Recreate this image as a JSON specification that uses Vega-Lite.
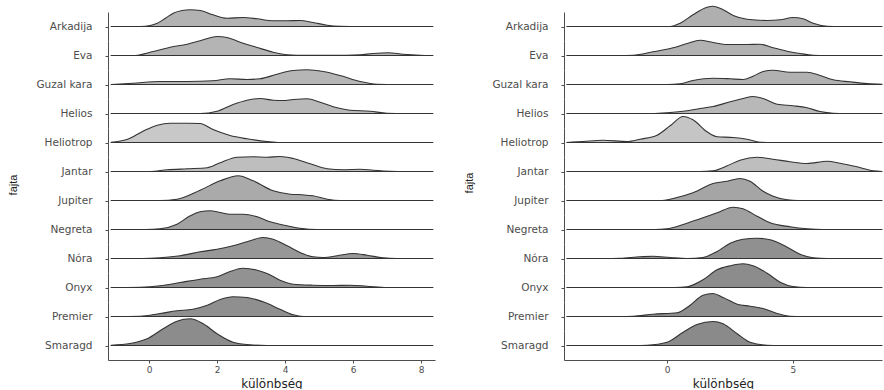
{
  "$schema": "https://vega.github.io/schema/vega-lite/v6.json",
  "padding": {"left": 8, "top": 5, "right": 0, "bottom": 0},
  "datasets": {
    "bal": [
      {"fajta":"Arkadija","kulonbseg":-1.12,"suruseg":0},{"fajta":"Arkadija","kulonbseg":-0.26,"suruseg":0},{"fajta":"Arkadija","kulonbseg":0.03,"suruseg":1},{"fajta":"Arkadija","kulonbseg":0.24,"suruseg":3.3},{"fajta":"Arkadija","kulonbseg":0.47,"suruseg":8},{"fajta":"Arkadija","kulonbseg":0.71,"suruseg":13.3},{"fajta":"Arkadija","kulonbseg":0.97,"suruseg":16},{"fajta":"Arkadija","kulonbseg":1.21,"suruseg":16.7},{"fajta":"Arkadija","kulonbseg":1.5,"suruseg":16},{"fajta":"Arkadija","kulonbseg":1.88,"suruseg":11.7},{"fajta":"Arkadija","kulonbseg":2.29,"suruseg":8.3},{"fajta":"Arkadija","kulonbseg":2.76,"suruseg":9},{"fajta":"Arkadija","kulonbseg":3.18,"suruseg":7.7},{"fajta":"Arkadija","kulonbseg":3.65,"suruseg":5.7},{"fajta":"Arkadija","kulonbseg":4.06,"suruseg":5.7},{"fajta":"Arkadija","kulonbseg":4.44,"suruseg":6},{"fajta":"Arkadija","kulonbseg":4.82,"suruseg":4},{"fajta":"Arkadija","kulonbseg":5.24,"suruseg":1.3},{"fajta":"Arkadija","kulonbseg":5.62,"suruseg":0.3},{"fajta":"Arkadija","kulonbseg":6.2,"suruseg":0},{"fajta":"Arkadija","kulonbseg":8.35,"suruseg":0},
      {"fajta":"Eva","kulonbseg":-1.12,"suruseg":0},{"fajta":"Eva","kulonbseg":-0.47,"suruseg":0},{"fajta":"Eva","kulonbseg":0.12,"suruseg":4},{"fajta":"Eva","kulonbseg":0.62,"suruseg":8.3},{"fajta":"Eva","kulonbseg":1.12,"suruseg":11.3},{"fajta":"Eva","kulonbseg":1.5,"suruseg":14.7},{"fajta":"Eva","kulonbseg":2.0,"suruseg":19},{"fajta":"Eva","kulonbseg":2.29,"suruseg":18},{"fajta":"Eva","kulonbseg":2.68,"suruseg":13.3},{"fajta":"Eva","kulonbseg":3.18,"suruseg":8},{"fajta":"Eva","kulonbseg":3.65,"suruseg":3.3},{"fajta":"Eva","kulonbseg":4.06,"suruseg":0.7},{"fajta":"Eva","kulonbseg":4.6,"suruseg":0.1},{"fajta":"Eva","kulonbseg":5.8,"suruseg":0.2},{"fajta":"Eva","kulonbseg":6.21,"suruseg":0.7},{"fajta":"Eva","kulonbseg":6.59,"suruseg":2},{"fajta":"Eva","kulonbseg":7.03,"suruseg":2.7},{"fajta":"Eva","kulonbseg":7.47,"suruseg":1.3},{"fajta":"Eva","kulonbseg":7.97,"suruseg":0.3},{"fajta":"Eva","kulonbseg":8.35,"suruseg":0},
      {"fajta":"Guzal kara","kulonbseg":-1.12,"suruseg":0},{"fajta":"Guzal kara","kulonbseg":-0.47,"suruseg":1.3},{"fajta":"Guzal kara","kulonbseg":0.32,"suruseg":3},{"fajta":"Guzal kara","kulonbseg":1.12,"suruseg":3},{"fajta":"Guzal kara","kulonbseg":1.88,"suruseg":3.7},{"fajta":"Guzal kara","kulonbseg":2.38,"suruseg":5.7},{"fajta":"Guzal kara","kulonbseg":2.88,"suruseg":5},{"fajta":"Guzal kara","kulonbseg":3.26,"suruseg":5.7},{"fajta":"Guzal kara","kulonbseg":3.76,"suruseg":10.3},{"fajta":"Guzal kara","kulonbseg":4.24,"suruseg":14},{"fajta":"Guzal kara","kulonbseg":4.65,"suruseg":14.7},{"fajta":"Guzal kara","kulonbseg":5.12,"suruseg":13},{"fajta":"Guzal kara","kulonbseg":5.62,"suruseg":9},{"fajta":"Guzal kara","kulonbseg":6.21,"suruseg":3},{"fajta":"Guzal kara","kulonbseg":6.71,"suruseg":0.3},{"fajta":"Guzal kara","kulonbseg":7.3,"suruseg":0},{"fajta":"Guzal kara","kulonbseg":8.35,"suruseg":0},
      {"fajta":"Helios","kulonbseg":-1.12,"suruseg":0},{"fajta":"Helios","kulonbseg":1.5,"suruseg":0},{"fajta":"Helios","kulonbseg":2.0,"suruseg":2.3},{"fajta":"Helios","kulonbseg":2.47,"suruseg":9},{"fajta":"Helios","kulonbseg":2.88,"suruseg":13.3},{"fajta":"Helios","kulonbseg":3.26,"suruseg":15},{"fajta":"Helios","kulonbseg":3.65,"suruseg":13.3},{"fajta":"Helios","kulonbseg":3.94,"suruseg":13},{"fajta":"Helios","kulonbseg":4.24,"suruseg":14},{"fajta":"Helios","kulonbseg":4.65,"suruseg":14.7},{"fajta":"Helios","kulonbseg":5.03,"suruseg":11.3},{"fajta":"Helios","kulonbseg":5.53,"suruseg":5.7},{"fajta":"Helios","kulonbseg":5.91,"suruseg":3.3},{"fajta":"Helios","kulonbseg":6.5,"suruseg":2.3},{"fajta":"Helios","kulonbseg":7.0,"suruseg":0.3},{"fajta":"Helios","kulonbseg":7.5,"suruseg":0},{"fajta":"Helios","kulonbseg":8.35,"suruseg":0},
      {"fajta":"Heliotrop","kulonbseg":-1.12,"suruseg":0.3},{"fajta":"Heliotrop","kulonbseg":-0.65,"suruseg":3},{"fajta":"Heliotrop","kulonbseg":-0.18,"suruseg":11.3},{"fajta":"Heliotrop","kulonbseg":0.24,"suruseg":17.3},{"fajta":"Heliotrop","kulonbseg":0.62,"suruseg":19.3},{"fajta":"Heliotrop","kulonbseg":1.12,"suruseg":19.3},{"fajta":"Heliotrop","kulonbseg":1.5,"suruseg":19},{"fajta":"Heliotrop","kulonbseg":1.88,"suruseg":13},{"fajta":"Heliotrop","kulonbseg":2.38,"suruseg":7},{"fajta":"Heliotrop","kulonbseg":2.88,"suruseg":3.7},{"fajta":"Heliotrop","kulonbseg":3.47,"suruseg":1},{"fajta":"Heliotrop","kulonbseg":3.85,"suruseg":0},{"fajta":"Heliotrop","kulonbseg":8.35,"suruseg":0},
      {"fajta":"Jantar","kulonbseg":-1.12,"suruseg":0},{"fajta":"Jantar","kulonbseg":0.03,"suruseg":0},{"fajta":"Jantar","kulonbseg":0.53,"suruseg":1.7},{"fajta":"Jantar","kulonbseg":1.12,"suruseg":2.7},{"fajta":"Jantar","kulonbseg":1.71,"suruseg":3.7},{"fajta":"Jantar","kulonbseg":2.09,"suruseg":8.7},{"fajta":"Jantar","kulonbseg":2.59,"suruseg":14.3},{"fajta":"Jantar","kulonbseg":3.06,"suruseg":14.7},{"fajta":"Jantar","kulonbseg":3.47,"suruseg":14.3},{"fajta":"Jantar","kulonbseg":3.85,"suruseg":15},{"fajta":"Jantar","kulonbseg":4.24,"suruseg":13},{"fajta":"Jantar","kulonbseg":4.74,"suruseg":7.7},{"fajta":"Jantar","kulonbseg":5.24,"suruseg":2.7},{"fajta":"Jantar","kulonbseg":5.71,"suruseg":1.7},{"fajta":"Jantar","kulonbseg":6.21,"suruseg":2.3},{"fajta":"Jantar","kulonbseg":6.59,"suruseg":1.3},{"fajta":"Jantar","kulonbseg":7.09,"suruseg":0.3},{"fajta":"Jantar","kulonbseg":7.5,"suruseg":0},{"fajta":"Jantar","kulonbseg":8.35,"suruseg":0},
      {"fajta":"Jupiter","kulonbseg":-1.12,"suruseg":0},{"fajta":"Jupiter","kulonbseg":0.32,"suruseg":0},{"fajta":"Jupiter","kulonbseg":0.82,"suruseg":1.3},{"fajta":"Jupiter","kulonbseg":1.5,"suruseg":10.3},{"fajta":"Jupiter","kulonbseg":2.09,"suruseg":19.7},{"fajta":"Jupiter","kulonbseg":2.62,"suruseg":24.7},{"fajta":"Jupiter","kulonbseg":3.06,"suruseg":19.7},{"fajta":"Jupiter","kulonbseg":3.65,"suruseg":9.7},{"fajta":"Jupiter","kulonbseg":4.15,"suruseg":6.3},{"fajta":"Jupiter","kulonbseg":4.5,"suruseg":5.7},{"fajta":"Jupiter","kulonbseg":4.82,"suruseg":4.7},{"fajta":"Jupiter","kulonbseg":5.24,"suruseg":1.3},{"fajta":"Jupiter","kulonbseg":5.62,"suruseg":0},{"fajta":"Jupiter","kulonbseg":8.35,"suruseg":0},
      {"fajta":"Negreta","kulonbseg":-1.12,"suruseg":0},{"fajta":"Negreta","kulonbseg":-0.1,"suruseg":0},{"fajta":"Negreta","kulonbseg":0.32,"suruseg":0.7},{"fajta":"Negreta","kulonbseg":0.82,"suruseg":5.3},{"fajta":"Negreta","kulonbseg":1.21,"suruseg":13.7},{"fajta":"Negreta","kulonbseg":1.5,"suruseg":17.7},{"fajta":"Negreta","kulonbseg":1.79,"suruseg":18.7},{"fajta":"Negreta","kulonbseg":2.09,"suruseg":17},{"fajta":"Negreta","kulonbseg":2.38,"suruseg":15.3},{"fajta":"Negreta","kulonbseg":2.76,"suruseg":15.3},{"fajta":"Negreta","kulonbseg":3.18,"suruseg":12.7},{"fajta":"Negreta","kulonbseg":3.56,"suruseg":7.7},{"fajta":"Negreta","kulonbseg":4.06,"suruseg":3.7},{"fajta":"Negreta","kulonbseg":4.44,"suruseg":1.3},{"fajta":"Negreta","kulonbseg":4.94,"suruseg":0},{"fajta":"Negreta","kulonbseg":8.35,"suruseg":0},
      {"fajta":"Nóra","kulonbseg":-1.12,"suruseg":0},{"fajta":"Nóra","kulonbseg":-0.2,"suruseg":0},{"fajta":"Nóra","kulonbseg":0.32,"suruseg":0.7},{"fajta":"Nóra","kulonbseg":0.91,"suruseg":2.7},{"fajta":"Nóra","kulonbseg":1.5,"suruseg":6.7},{"fajta":"Nóra","kulonbseg":2.0,"suruseg":9.3},{"fajta":"Nóra","kulonbseg":2.47,"suruseg":12.7},{"fajta":"Nóra","kulonbseg":2.97,"suruseg":17.7},{"fajta":"Nóra","kulonbseg":3.35,"suruseg":21},{"fajta":"Nóra","kulonbseg":3.65,"suruseg":19.3},{"fajta":"Nóra","kulonbseg":4.06,"suruseg":12.7},{"fajta":"Nóra","kulonbseg":4.44,"suruseg":6},{"fajta":"Nóra","kulonbseg":4.82,"suruseg":1.7},{"fajta":"Nóra","kulonbseg":5.12,"suruseg":1},{"fajta":"Nóra","kulonbseg":5.53,"suruseg":2.7},{"fajta":"Nóra","kulonbseg":6.0,"suruseg":5},{"fajta":"Nóra","kulonbseg":6.41,"suruseg":3.3},{"fajta":"Nóra","kulonbseg":6.88,"suruseg":0.7},{"fajta":"Nóra","kulonbseg":7.29,"suruseg":0},{"fajta":"Nóra","kulonbseg":8.35,"suruseg":0},
      {"fajta":"Onyx","kulonbseg":-1.12,"suruseg":0},{"fajta":"Onyx","kulonbseg":-0.26,"suruseg":0.3},{"fajta":"Onyx","kulonbseg":0.32,"suruseg":1.7},{"fajta":"Onyx","kulonbseg":0.91,"suruseg":5},{"fajta":"Onyx","kulonbseg":1.5,"suruseg":8.3},{"fajta":"Onyx","kulonbseg":2.0,"suruseg":10.7},{"fajta":"Onyx","kulonbseg":2.38,"suruseg":16},{"fajta":"Onyx","kulonbseg":2.76,"suruseg":19.3},{"fajta":"Onyx","kulonbseg":3.18,"suruseg":17.3},{"fajta":"Onyx","kulonbseg":3.47,"suruseg":14},{"fajta":"Onyx","kulonbseg":3.85,"suruseg":7.3},{"fajta":"Onyx","kulonbseg":4.24,"suruseg":3.3},{"fajta":"Onyx","kulonbseg":4.82,"suruseg":2.3},{"fajta":"Onyx","kulonbseg":5.41,"suruseg":2},{"fajta":"Onyx","kulonbseg":5.91,"suruseg":2.3},{"fajta":"Onyx","kulonbseg":6.41,"suruseg":1.3},{"fajta":"Onyx","kulonbseg":7.0,"suruseg":0},{"fajta":"Onyx","kulonbseg":8.35,"suruseg":0},
      {"fajta":"Premier","kulonbseg":-1.12,"suruseg":0},{"fajta":"Premier","kulonbseg":-0.26,"suruseg":0.3},{"fajta":"Premier","kulonbseg":0.32,"suruseg":3},{"fajta":"Premier","kulonbseg":0.82,"suruseg":5.7},{"fajta":"Premier","kulonbseg":1.29,"suruseg":7.3},{"fajta":"Premier","kulonbseg":1.71,"suruseg":11.3},{"fajta":"Premier","kulonbseg":2.09,"suruseg":17},{"fajta":"Premier","kulonbseg":2.47,"suruseg":19.7},{"fajta":"Premier","kulonbseg":2.88,"suruseg":19},{"fajta":"Premier","kulonbseg":3.35,"suruseg":14.7},{"fajta":"Premier","kulonbseg":3.85,"suruseg":7.3},{"fajta":"Premier","kulonbseg":4.24,"suruseg":1.7},{"fajta":"Premier","kulonbseg":4.53,"suruseg":0},{"fajta":"Premier","kulonbseg":8.35,"suruseg":0},
      {"fajta":"Smaragd","kulonbseg":-1.12,"suruseg":0.3},{"fajta":"Smaragd","kulonbseg":-0.56,"suruseg":2},{"fajta":"Smaragd","kulonbseg":-0.06,"suruseg":6.7},{"fajta":"Smaragd","kulonbseg":0.41,"suruseg":16.7},{"fajta":"Smaragd","kulonbseg":0.82,"suruseg":24.3},{"fajta":"Smaragd","kulonbseg":1.21,"suruseg":26.7},{"fajta":"Smaragd","kulonbseg":1.59,"suruseg":21.7},{"fajta":"Smaragd","kulonbseg":2.0,"suruseg":11.7},{"fajta":"Smaragd","kulonbseg":2.47,"suruseg":3.3},{"fajta":"Smaragd","kulonbseg":2.97,"suruseg":0.7},{"fajta":"Smaragd","kulonbseg":3.47,"suruseg":0},{"fajta":"Smaragd","kulonbseg":8.35,"suruseg":0}
    ],
    "jobb": [
      {"fajta":"Arkadija","kulonbseg":-3.99,"suruseg":0},{"fajta":"Arkadija","kulonbseg":0.12,"suruseg":0},{"fajta":"Arkadija","kulonbseg":0.52,"suruseg":3.3},{"fajta":"Arkadija","kulonbseg":1.03,"suruseg":11.7},{"fajta":"Arkadija","kulonbseg":1.59,"suruseg":19.3},{"fajta":"Arkadija","kulonbseg":1.83,"suruseg":20.3},{"fajta":"Arkadija","kulonbseg":2.23,"suruseg":16.7},{"fajta":"Arkadija","kulonbseg":2.63,"suruseg":11},{"fajta":"Arkadija","kulonbseg":3.18,"suruseg":7.3},{"fajta":"Arkadija","kulonbseg":3.98,"suruseg":6},{"fajta":"Arkadija","kulonbseg":4.5,"suruseg":6.7},{"fajta":"Arkadija","kulonbseg":5.01,"suruseg":9},{"fajta":"Arkadija","kulonbseg":5.41,"suruseg":7.7},{"fajta":"Arkadija","kulonbseg":5.81,"suruseg":3.3},{"fajta":"Arkadija","kulonbseg":6.37,"suruseg":0.3},{"fajta":"Arkadija","kulonbseg":6.9,"suruseg":0},{"fajta":"Arkadija","kulonbseg":8.55,"suruseg":0},
      {"fajta":"Eva","kulonbseg":-3.99,"suruseg":0},{"fajta":"Eva","kulonbseg":-1.9,"suruseg":0},{"fajta":"Eva","kulonbseg":-1.35,"suruseg":0.3},{"fajta":"Eva","kulonbseg":-0.56,"suruseg":3.7},{"fajta":"Eva","kulonbseg":0.24,"suruseg":7.7},{"fajta":"Eva","kulonbseg":0.8,"suruseg":12},{"fajta":"Eva","kulonbseg":1.31,"suruseg":15.3},{"fajta":"Eva","kulonbseg":1.83,"suruseg":13},{"fajta":"Eva","kulonbseg":2.39,"suruseg":11},{"fajta":"Eva","kulonbseg":3.18,"suruseg":11},{"fajta":"Eva","kulonbseg":3.7,"suruseg":11.3},{"fajta":"Eva","kulonbseg":4.22,"suruseg":7.7},{"fajta":"Eva","kulonbseg":4.78,"suruseg":4.3},{"fajta":"Eva","kulonbseg":5.29,"suruseg":2},{"fajta":"Eva","kulonbseg":5.81,"suruseg":0.3},{"fajta":"Eva","kulonbseg":6.3,"suruseg":0},{"fajta":"Eva","kulonbseg":8.55,"suruseg":0},
      {"fajta":"Guzal kara","kulonbseg":-3.99,"suruseg":0},{"fajta":"Guzal kara","kulonbseg":0.0,"suruseg":0},{"fajta":"Guzal kara","kulonbseg":0.52,"suruseg":0.7},{"fajta":"Guzal kara","kulonbseg":1.03,"suruseg":4},{"fajta":"Guzal kara","kulonbseg":1.83,"suruseg":6.3},{"fajta":"Guzal kara","kulonbseg":2.51,"suruseg":5.7},{"fajta":"Guzal kara","kulonbseg":3.02,"suruseg":5},{"fajta":"Guzal kara","kulonbseg":3.42,"suruseg":8.3},{"fajta":"Guzal kara","kulonbseg":3.82,"suruseg":13},{"fajta":"Guzal kara","kulonbseg":4.22,"suruseg":14.3},{"fajta":"Guzal kara","kulonbseg":4.89,"suruseg":12.3},{"fajta":"Guzal kara","kulonbseg":5.57,"suruseg":12.3},{"fajta":"Guzal kara","kulonbseg":6.09,"suruseg":9},{"fajta":"Guzal kara","kulonbseg":6.61,"suruseg":4.7},{"fajta":"Guzal kara","kulonbseg":7.28,"suruseg":2.7},{"fajta":"Guzal kara","kulonbseg":7.96,"suruseg":1},{"fajta":"Guzal kara","kulonbseg":8.55,"suruseg":0.3},
      {"fajta":"Helios","kulonbseg":-3.99,"suruseg":0},{"fajta":"Helios","kulonbseg":-0.6,"suruseg":0},{"fajta":"Helios","kulonbseg":0.0,"suruseg":0.7},{"fajta":"Helios","kulonbseg":0.8,"suruseg":2.7},{"fajta":"Helios","kulonbseg":1.31,"suruseg":5},{"fajta":"Helios","kulonbseg":1.83,"suruseg":7},{"fajta":"Helios","kulonbseg":2.51,"suruseg":11.7},{"fajta":"Helios","kulonbseg":3.02,"suruseg":15},{"fajta":"Helios","kulonbseg":3.42,"suruseg":17},{"fajta":"Helios","kulonbseg":3.82,"suruseg":15},{"fajta":"Helios","kulonbseg":4.38,"suruseg":9.3},{"fajta":"Helios","kulonbseg":5.01,"suruseg":7.7},{"fajta":"Helios","kulonbseg":5.57,"suruseg":5.7},{"fajta":"Helios","kulonbseg":6.09,"suruseg":2},{"fajta":"Helios","kulonbseg":6.61,"suruseg":0.3},{"fajta":"Helios","kulonbseg":7.1,"suruseg":0},{"fajta":"Helios","kulonbseg":8.55,"suruseg":0},
      {"fajta":"Heliotrop","kulonbseg":-3.99,"suruseg":0},{"fajta":"Heliotrop","kulonbseg":-3.34,"suruseg":1},{"fajta":"Heliotrop","kulonbseg":-2.55,"suruseg":2.3},{"fajta":"Heliotrop","kulonbseg":-1.59,"suruseg":1},{"fajta":"Heliotrop","kulonbseg":-1.07,"suruseg":3.3},{"fajta":"Heliotrop","kulonbseg":-0.4,"suruseg":7.3},{"fajta":"Heliotrop","kulonbseg":0.12,"suruseg":16.7},{"fajta":"Heliotrop","kulonbseg":0.64,"suruseg":26},{"fajta":"Heliotrop","kulonbseg":1.03,"suruseg":22.7},{"fajta":"Heliotrop","kulonbseg":1.59,"suruseg":10.7},{"fajta":"Heliotrop","kulonbseg":1.99,"suruseg":5.7},{"fajta":"Heliotrop","kulonbseg":2.63,"suruseg":5},{"fajta":"Heliotrop","kulonbseg":3.18,"suruseg":3.3},{"fajta":"Heliotrop","kulonbseg":3.7,"suruseg":0.3},{"fajta":"Heliotrop","kulonbseg":4.2,"suruseg":0},{"fajta":"Heliotrop","kulonbseg":8.55,"suruseg":0},
      {"fajta":"Jantar","kulonbseg":-3.99,"suruseg":0},{"fajta":"Jantar","kulonbseg":1.3,"suruseg":0},{"fajta":"Jantar","kulonbseg":1.83,"suruseg":0.7},{"fajta":"Jantar","kulonbseg":2.39,"suruseg":5.7},{"fajta":"Jantar","kulonbseg":2.9,"suruseg":11.3},{"fajta":"Jantar","kulonbseg":3.58,"suruseg":14.3},{"fajta":"Jantar","kulonbseg":4.22,"suruseg":12.3},{"fajta":"Jantar","kulonbseg":4.89,"suruseg":9.7},{"fajta":"Jantar","kulonbseg":5.57,"suruseg":8},{"fajta":"Jantar","kulonbseg":6.37,"suruseg":10.3},{"fajta":"Jantar","kulonbseg":6.88,"suruseg":8.3},{"fajta":"Jantar","kulonbseg":7.56,"suruseg":4.7},{"fajta":"Jantar","kulonbseg":8.2,"suruseg":0.7},{"fajta":"Jantar","kulonbseg":8.55,"suruseg":0},
      {"fajta":"Jupiter","kulonbseg":-3.99,"suruseg":0},{"fajta":"Jupiter","kulonbseg":-0.28,"suruseg":0},{"fajta":"Jupiter","kulonbseg":0.24,"suruseg":2},{"fajta":"Jupiter","kulonbseg":1.03,"suruseg":7.7},{"fajta":"Jupiter","kulonbseg":1.83,"suruseg":17},{"fajta":"Jupiter","kulonbseg":2.39,"suruseg":19.3},{"fajta":"Jupiter","kulonbseg":2.9,"suruseg":22},{"fajta":"Jupiter","kulonbseg":3.3,"suruseg":19.3},{"fajta":"Jupiter","kulonbseg":3.82,"suruseg":9.3},{"fajta":"Jupiter","kulonbseg":4.22,"suruseg":4.3},{"fajta":"Jupiter","kulonbseg":4.78,"suruseg":0.7},{"fajta":"Jupiter","kulonbseg":5.2,"suruseg":0},{"fajta":"Jupiter","kulonbseg":8.55,"suruseg":0},
      {"fajta":"Negreta","kulonbseg":-3.99,"suruseg":0},{"fajta":"Negreta","kulonbseg":-0.5,"suruseg":0},{"fajta":"Negreta","kulonbseg":0.0,"suruseg":0.7},{"fajta":"Negreta","kulonbseg":0.64,"suruseg":5},{"fajta":"Negreta","kulonbseg":1.31,"suruseg":10.7},{"fajta":"Negreta","kulonbseg":1.99,"suruseg":16.7},{"fajta":"Negreta","kulonbseg":2.63,"suruseg":22.3},{"fajta":"Negreta","kulonbseg":3.02,"suruseg":20.7},{"fajta":"Negreta","kulonbseg":3.58,"suruseg":13.3},{"fajta":"Negreta","kulonbseg":4.1,"suruseg":6.7},{"fajta":"Negreta","kulonbseg":4.89,"suruseg":2.7},{"fajta":"Negreta","kulonbseg":5.57,"suruseg":0.7},{"fajta":"Negreta","kulonbseg":6.21,"suruseg":0},{"fajta":"Negreta","kulonbseg":8.55,"suruseg":0},
      {"fajta":"Nóra","kulonbseg":-3.99,"suruseg":0},{"fajta":"Nóra","kulonbseg":-2.5,"suruseg":0},{"fajta":"Nóra","kulonbseg":-1.87,"suruseg":0.3},{"fajta":"Nóra","kulonbseg":-1.07,"suruseg":1.7},{"fajta":"Nóra","kulonbseg":-0.56,"suruseg":2.3},{"fajta":"Nóra","kulonbseg":0.12,"suruseg":1},{"fajta":"Nóra","kulonbseg":0.8,"suruseg":0},{"fajta":"Nóra","kulonbseg":1.43,"suruseg":1},{"fajta":"Nóra","kulonbseg":1.99,"suruseg":7},{"fajta":"Nóra","kulonbseg":2.51,"suruseg":15.3},{"fajta":"Nóra","kulonbseg":3.02,"suruseg":19.3},{"fajta":"Nóra","kulonbseg":3.58,"suruseg":20.3},{"fajta":"Nóra","kulonbseg":4.1,"suruseg":18.7},{"fajta":"Nóra","kulonbseg":4.78,"suruseg":11.3},{"fajta":"Nóra","kulonbseg":5.29,"suruseg":4.3},{"fajta":"Nóra","kulonbseg":5.81,"suruseg":0.7},{"fajta":"Nóra","kulonbseg":6.37,"suruseg":0},{"fajta":"Nóra","kulonbseg":8.55,"suruseg":0},
      {"fajta":"Onyx","kulonbseg":-3.99,"suruseg":0},{"fajta":"Onyx","kulonbseg":0.3,"suruseg":0},{"fajta":"Onyx","kulonbseg":0.8,"suruseg":0.7},{"fajta":"Onyx","kulonbseg":1.43,"suruseg":7.7},{"fajta":"Onyx","kulonbseg":1.99,"suruseg":17.7},{"fajta":"Onyx","kulonbseg":2.51,"suruseg":21.7},{"fajta":"Onyx","kulonbseg":3.02,"suruseg":23.7},{"fajta":"Onyx","kulonbseg":3.42,"suruseg":21.7},{"fajta":"Onyx","kulonbseg":3.98,"suruseg":14.3},{"fajta":"Onyx","kulonbseg":4.5,"suruseg":5.3},{"fajta":"Onyx","kulonbseg":5.01,"suruseg":1},{"fajta":"Onyx","kulonbseg":5.57,"suruseg":0},{"fajta":"Onyx","kulonbseg":8.55,"suruseg":0},
      {"fajta":"Premier","kulonbseg":-3.99,"suruseg":0},{"fajta":"Premier","kulonbseg":-1.9,"suruseg":0},{"fajta":"Premier","kulonbseg":-1.35,"suruseg":0.3},{"fajta":"Premier","kulonbseg":-0.56,"suruseg":2.3},{"fajta":"Premier","kulonbseg":0.4,"suruseg":3.7},{"fajta":"Premier","kulonbseg":0.92,"suruseg":11.3},{"fajta":"Premier","kulonbseg":1.43,"suruseg":21.3},{"fajta":"Premier","kulonbseg":1.83,"suruseg":23},{"fajta":"Premier","kulonbseg":2.23,"suruseg":19},{"fajta":"Premier","kulonbseg":2.79,"suruseg":12.3},{"fajta":"Premier","kulonbseg":3.3,"suruseg":10.3},{"fajta":"Premier","kulonbseg":3.82,"suruseg":8},{"fajta":"Premier","kulonbseg":4.38,"suruseg":3},{"fajta":"Premier","kulonbseg":4.89,"suruseg":0.3},{"fajta":"Premier","kulonbseg":5.4,"suruseg":0},{"fajta":"Premier","kulonbseg":8.55,"suruseg":0},
      {"fajta":"Smaragd","kulonbseg":-3.99,"suruseg":0},{"fajta":"Smaragd","kulonbseg":-1.3,"suruseg":0},{"fajta":"Smaragd","kulonbseg":-0.8,"suruseg":0.3},{"fajta":"Smaragd","kulonbseg":0.0,"suruseg":3.3},{"fajta":"Smaragd","kulonbseg":0.64,"suruseg":13.3},{"fajta":"Smaragd","kulonbseg":1.19,"suruseg":21},{"fajta":"Smaragd","kulonbseg":1.83,"suruseg":24},{"fajta":"Smaragd","kulonbseg":2.23,"suruseg":21.7},{"fajta":"Smaragd","kulonbseg":2.79,"suruseg":11.7},{"fajta":"Smaragd","kulonbseg":3.3,"suruseg":3.3},{"fajta":"Smaragd","kulonbseg":3.98,"suruseg":0.3},{"fajta":"Smaragd","kulonbseg":4.5,"suruseg":0},{"fajta":"Smaragd","kulonbseg":8.55,"suruseg":0}
    ]
  },
  "hconcat": [
    {
      "data": {"name": "bal"},
      "bounds": "flush",
      "facet": {"row": {"field": "fajta", "type": "nominal", "title": "fajta",
        "sort": ["Arkadija","Eva","Guzal kara","Helios","Heliotrop","Jantar","Jupiter","Negreta","Nóra","Onyx","Premier","Smaragd"]}},
      "spacing": {"row": 0},
      "spec": {
        "width": 327, "height": 29,
        "mark": {"type": "area", "interpolate": "monotone", "stroke": "#333333", "strokeWidth": 1.1, "strokeJoin": "round"},
        "encoding": {
          "x": {"field": "kulonbseg", "type": "quantitative", "title": "különbség",
            "scale": {"domain": [-1.21, 8.41], "nice": false, "zero": false},
            "axis": {"values": [0, 2, 4, 6, 8]}},
          "y": {"field": "suruseg", "type": "quantitative", "stack": null,
            "scale": {"domain": [-14.5, 14.5], "nice": false, "zero": false},
            "axis": {"values": [0], "labels": false, "title": null, "grid": false}},
          "y2": {"datum": 0},
          "fill": {"field": "fajta", "type": "nominal", "legend": null,
            "scale": {"domain": ["Arkadija","Eva","Guzal kara","Helios","Heliotrop","Jantar","Jupiter","Negreta","Nóra","Onyx","Premier","Smaragd"],
              "range": ["#b2b2b2","#b4b4b4","#b6b6b6","#b9b9b9","#c8c8c8","#bebebe","#aaaaaa","#a2a2a2","#979797","#929292","#8f8f8f","#8c8c8c"]}}
        }
      }
    },
    {
      "data": {"name": "jobb"},
      "bounds": "flush",
      "facet": {"row": {"field": "fajta", "type": "nominal", "title": "fajta",
        "sort": ["Arkadija","Eva","Guzal kara","Helios","Heliotrop","Jantar","Jupiter","Negreta","Nóra","Onyx","Premier","Smaragd"]}},
      "spacing": {"row": 0},
      "spec": {
        "width": 318, "height": 29,
        "mark": {"type": "area", "interpolate": "monotone", "stroke": "#333333", "strokeWidth": 1.1, "strokeJoin": "round"},
        "encoding": {
          "x": {"field": "kulonbseg", "type": "quantitative", "title": "különbség",
            "scale": {"domain": [-4.1, 8.55], "nice": false, "zero": false},
            "axis": {"values": [0, 5]}},
          "y": {"field": "suruseg", "type": "quantitative", "stack": null,
            "scale": {"domain": [-14.5, 14.5], "nice": false, "zero": false},
            "axis": {"values": [0], "labels": false, "title": null, "grid": false}},
          "y2": {"datum": 0},
          "fill": {"field": "fajta", "type": "nominal", "legend": null,
            "scale": {"domain": ["Arkadija","Eva","Guzal kara","Helios","Heliotrop","Jantar","Jupiter","Negreta","Nóra","Onyx","Premier","Smaragd"],
              "range": ["#afafaf","#b1b1b1","#b1b1b1","#b8b8b8","#c5c5c5","#bebebe","#a5a5a5","#a0a0a0","#909090","#8c8c8c","#8d8d8d","#8a8a8a"]}}
        }
      }
    }
  ],
  "spacing": 29,
  "resolve": {"scale": {"fill": "independent", "x": "independent", "y": "independent"}},
  "config": {
    "view": {"stroke": null},
    "font": "DejaVu Sans",
    "axis": {"domainColor": "#4d4d4d", "tickColor": "#4d4d4d", "tickSize": 3, "grid": false,
      "labelFont": "DejaVu Sans", "labelFontSize": 9, "labelColor": "#4d4d4d", "labelPadding": 2,
      "titleFont": "DejaVu Sans", "titleFontSize": 12, "titleFontWeight": "normal", "titleColor": "#222222", "titlePadding": 4},
    "header": {"labelAngle": 0, "labelAlign": "left", "labelAnchor": "middle", "labelBaseline": "middle", "labelOrient": "left",
      "labelPadding": 12, "labelFont": "DejaVu Sans", "labelFontSize": 10.5, "labelColor": "#4d4d4d",
      "titleOrient": "left", "titleAngle": -90, "titleFont": "Liberation Sans", "titleFontSize": 11, "titleFontWeight": "normal", "titleColor": "#222222", "titlePadding": -4}
  }
}
